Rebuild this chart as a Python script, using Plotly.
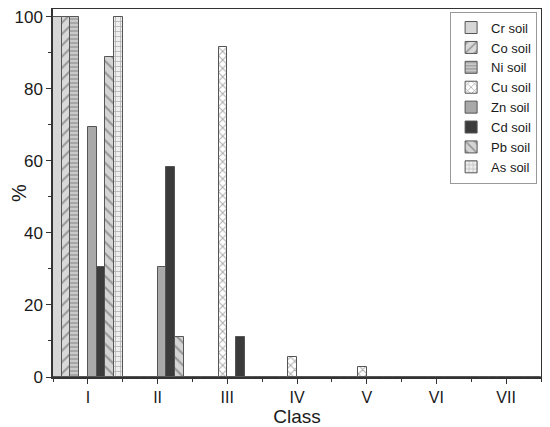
import plotly.graph_objects as go

classes = ['I', 'II', 'III', 'IV', 'V', 'VI', 'VII']
elements = ['Cr soil', 'Co soil', 'Ni soil', 'Cu soil', 'Zn soil', 'Cd soil', 'Pb soil', 'As soil']

cr = [100, 0, 0, 0, 0, 0, 0]
co = [100, 0, 0, 0, 0, 0, 0]
ni = [100, 0, 0, 0, 0, 0, 0]
cu = [0, 0, 91.7, 5.6, 2.8, 0, 0]
zn = [69.4, 30.6, 0, 0, 0, 0, 0]
cd = [30.6, 58.3, 11.1, 0, 0, 0, 0]
pb = [88.9, 11.1, 0, 0, 0, 0, 0]
as_ = [100, 0, 0, 0, 0, 0, 0]

series = [cr, co, ni, cu, zn, cd, pb, as_]

# (background, pattern shape, pattern colour, pattern size, solidity)
looks = [
    ('#d6d6d6', '', None, 8, 0),
    ('#d9d9d9', '/', '#555555', 8, 0.25),
    ('#c9c9c9', '-', '#666666', 4, 0.35),
    ('#ffffff', 'x', '#555555', 6, 0.3),
    ('#a9a9a9', '', None, 8, 0),
    ('#3b3b3b', '', None, 8, 0),
    ('#d4d4d4', '\\', '#555555', 8, 0.25),
    ('#efefef', '+', '#777777', 5, 0.3),
]

x_pos = list(range(len(classes)))
font = 'Arial, Liberation Sans, sans-serif'

fig = go.Figure()
for name, vals, (bg, shape, fg, size, sol) in zip(elements, series, looks):
    marker = dict(color=bg, line=dict(color='#555555', width=1))
    if shape:
        marker['pattern'] = dict(shape=shape, fgcolor=fg, bgcolor=bg,
                                 size=size, solidity=sol)
    fig.add_trace(go.Bar(x=x_pos, y=vals, name=name, marker=marker))

# page body adds an 8px margin, so the figure is 8px smaller each way
fig.update_layout(
    width=542, height=419,
    barmode='group', bargap=0, bargroupgap=0,
    paper_bgcolor='white', plot_bgcolor='white',
    margin=dict(l=45, r=9, t=1, b=50, autoexpand=False),
    font=dict(family=font, color='#1a1a1a'),
    legend=dict(x=0.992, y=0.993, xanchor='right', yanchor='top',
                bordercolor='#999999', borderwidth=1,
                font=dict(size=13), tracegroupgap=0),
    xaxis=dict(range=[-0.5, 6.5], tickvals=x_pos, ticktext=classes,
               ticks='outside', ticklen=5, tickcolor='#333333',
               showline=True, linecolor='#333333', linewidth=1.5, mirror=True,
               showgrid=False, zeroline=False, automargin=False,
               minor=dict(dtick=0.5, tick0=0, ticks='outside', ticklen=3,
                          tickcolor='#333333', showgrid=False),
               tickfont=dict(size=16),
               title=dict(text='Class', font=dict(size=19), standoff=1)),
    yaxis=dict(range=[0, 102.2], dtick=20,
               ticks='outside', ticklen=5, tickcolor='#333333',
               showline=True, linecolor='#333333', linewidth=1.5, mirror=True,
               showgrid=False, zeroline=False, automargin=False,
               ticklabeloverflow='allow',
               minor=dict(dtick=10, ticks='outside', ticklen=3,
                          tickcolor='#333333', showgrid=False),
               tickfont=dict(size=17),
               title=dict(text='%', font=dict(size=20), standoff=2)),
)

fig.write_html('out.html')
